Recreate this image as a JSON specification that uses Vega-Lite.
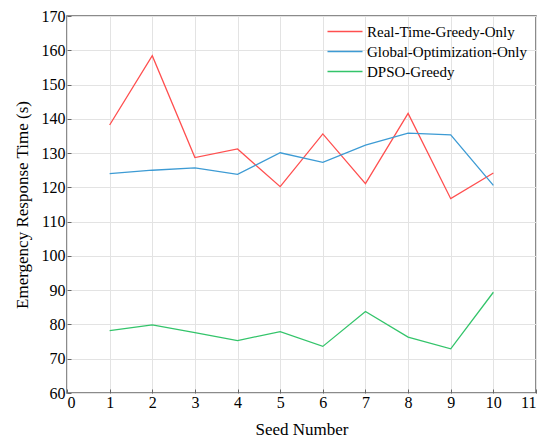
{
  "$schema": "https://vega.github.io/schema/vega-lite/v6.json",
  "autosize": {"type": "none"},
  "padding": {"left": 67, "top": 16, "right": 14, "bottom": 52},
  "width": 469,
  "height": 377,
  "background": "white",
  "config": {
    "font": "Liberation Serif",
    "style": {
      "guide-label": {"font": "Liberation Serif", "fill": "black"},
      "guide-title": {"font": "Liberation Serif", "fill": "black"}
    },
    "view": {"stroke": "#666666", "strokeWidth": 1.5},
    "axis": {
      "labelFont": "Liberation Serif",
      "titleFont": "Liberation Serif",
      "labelFontSize": 16,
      "titleFontSize": 17,
      "labelColor": "black",
      "titleColor": "black",
      "titleFontWeight": "normal",
      "gridColor": "#e3e3e3",
      "gridWidth": 1,
      "tickColor": "#666666",
      "tickSize": -4,
      "tickWidth": 1,
      "domain": false
    },
    "legend": {
      "labelFont": "Liberation Serif"
    }
  },
  "data": {
    "values": [
      {"seed": 1, "method": "Real-Time-Greedy-Only", "time": 138.2},
      {"seed": 2, "method": "Real-Time-Greedy-Only", "time": 158.4},
      {"seed": 3, "method": "Real-Time-Greedy-Only", "time": 128.7},
      {"seed": 4, "method": "Real-Time-Greedy-Only", "time": 131.2},
      {"seed": 5, "method": "Real-Time-Greedy-Only", "time": 120.2},
      {"seed": 6, "method": "Real-Time-Greedy-Only", "time": 135.6},
      {"seed": 7, "method": "Real-Time-Greedy-Only", "time": 121.1},
      {"seed": 8, "method": "Real-Time-Greedy-Only", "time": 141.6},
      {"seed": 9, "method": "Real-Time-Greedy-Only", "time": 116.7},
      {"seed": 10, "method": "Real-Time-Greedy-Only", "time": 124.2},
      {"seed": 1, "method": "Global-Optimization-Only", "time": 124.0},
      {"seed": 2, "method": "Global-Optimization-Only", "time": 125.0},
      {"seed": 3, "method": "Global-Optimization-Only", "time": 125.7},
      {"seed": 4, "method": "Global-Optimization-Only", "time": 123.8},
      {"seed": 5, "method": "Global-Optimization-Only", "time": 130.1},
      {"seed": 6, "method": "Global-Optimization-Only", "time": 127.3},
      {"seed": 7, "method": "Global-Optimization-Only", "time": 132.3},
      {"seed": 8, "method": "Global-Optimization-Only", "time": 135.8},
      {"seed": 9, "method": "Global-Optimization-Only", "time": 135.3},
      {"seed": 10, "method": "Global-Optimization-Only", "time": 120.6},
      {"seed": 1, "method": "DPSO-Greedy", "time": 78.2},
      {"seed": 2, "method": "DPSO-Greedy", "time": 79.9},
      {"seed": 3, "method": "DPSO-Greedy", "time": 77.6},
      {"seed": 4, "method": "DPSO-Greedy", "time": 75.3},
      {"seed": 5, "method": "DPSO-Greedy", "time": 77.9},
      {"seed": 6, "method": "DPSO-Greedy", "time": 73.6},
      {"seed": 7, "method": "DPSO-Greedy", "time": 83.8},
      {"seed": 8, "method": "DPSO-Greedy", "time": 76.3},
      {"seed": 9, "method": "DPSO-Greedy", "time": 72.9},
      {"seed": 10, "method": "DPSO-Greedy", "time": 89.4}
    ]
  },
  "mark": {"type": "line", "strokeWidth": 1.3},
  "encoding": {
    "x": {
      "field": "seed",
      "type": "quantitative",
      "title": "Seed Number",
      "scale": {"domain": [0, 11], "nice": false},
      "axis": {"values": [0, 1, 2, 3, 4, 5, 6, 7, 8, 9, 10, 11], "labelFont": "Liberation Serif", "labelPadding": 5, "titlePadding": 11}
    },
    "y": {
      "field": "time",
      "type": "quantitative",
      "title": "Emergency Response Time (s)",
      "scale": {"domain": [60, 170], "nice": false, "zero": false},
      "axis": {"values": [60, 70, 80, 90, 100, 110, 120, 130, 140, 150, 160, 170], "labelFont": "Liberation Serif", "labelPadding": 6, "titlePadding": 10}
    },
    "color": {
      "field": "method",
      "type": "nominal",
      "sort": ["Real-Time-Greedy-Only", "Global-Optimization-Only", "DPSO-Greedy"],
      "scale": {
        "domain": ["Real-Time-Greedy-Only", "Global-Optimization-Only", "DPSO-Greedy"],
        "range": ["#ff4f4f", "#3d9bd4", "#33c46a"]
      },
      "legend": {
        "title": null,
        "orient": "none",
        "legendX": 258,
        "legendY": 8,
        "symbolType": "M-1,0H6",
        "symbolSize": 100,
        "symbolStrokeWidth": 1.5,
        "symbolFillColor": "transparent",
        "labelFont": "Liberation Serif",
        "labelFontSize": 15,
        "labelColor": "black",
        "labelOffset": 27,
        "rowPadding": 4,
        "labelLimit": 300
      }
    }
  }
}
